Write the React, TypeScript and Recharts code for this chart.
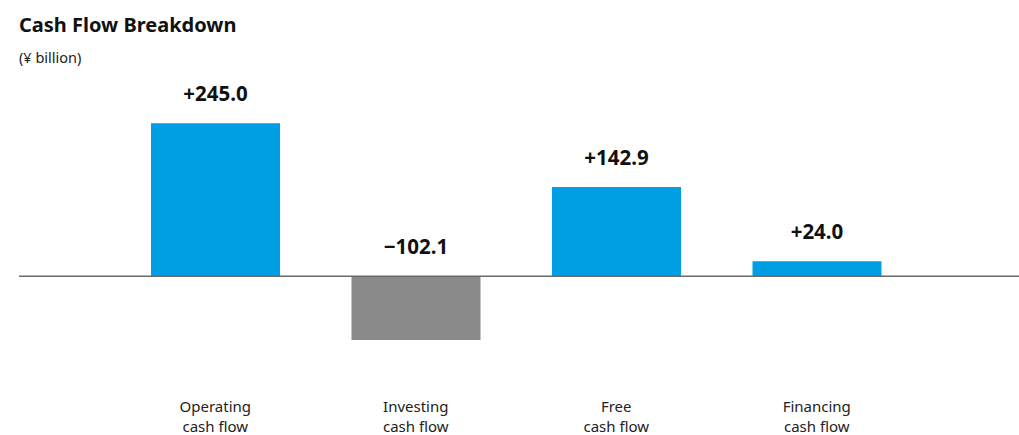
import React from "react";
import { BarChart, Bar, XAxis, YAxis, Cell, LabelList, ReferenceLine } from "recharts";

const categories = ["Operating\ncash flow", "Investing\ncash flow", "Free\ncash flow", "Financing\ncash flow"];
const values = [245.0, -102.1, 142.9, 24.0];
const barColors = ["#009FE3", "#8A8A8A", "#009FE3", "#009FE3"];

const data = categories.map((c, i) => ({ name: c, value: values[i] }));

const fmt = (v: number) => (v >= 0 ? "+" : "\u2212") + Math.abs(v).toFixed(1);

const FONT = "'Noto Sans', 'Open Sans', sans-serif";

const ValueLabel = (props: any) => {
  const { x, y, width, height, value } = props;
  const top = Math.min(y, y + height);
  return (
    <text
      x={x + width / 2}
      y={top - 30}
      textAnchor="middle"
      dominantBaseline="central"
      fontFamily={FONT}
      fontWeight={700}
      fontSize={20.5}
      fill="#111"
    >
      {fmt(value)}
    </text>
  );
};

const CatTick = (props: any) => {
  const { x, y, payload } = props;
  const lines = String(payload.value).split("\n");
  return (
    <g>
      {lines.map((l, i) => (
        <text
          key={i}
          x={x}
          y={y - 3 + i * 19.5}
          textAnchor="middle"
          dominantBaseline="central"
          fontFamily={FONT}
          fontSize={15}
          fill="#222"
        >
          {l}
        </text>
      ))}
    </g>
  );
};

export default function App() {
  return (
    <div style={{ position: "absolute", left: 0, top: 0, width: 1019, height: 435, background: "#fff" }}>
      <div
        style={{
          position: "absolute",
          left: 19,
          top: 11,
          fontFamily: FONT,
          fontWeight: 700,
          fontSize: 20,
          color: "#111",
          whiteSpace: "nowrap",
          lineHeight: "28px",
        }}
      >
        Cash Flow Breakdown
      </div>
      <div
        style={{
          position: "absolute",
          left: 19,
          top: 47,
          fontFamily: FONT,
          fontSize: 14.5,
          color: "#222",
          whiteSpace: "nowrap",
          lineHeight: "20px",
        }}
      >
        (¥ billion)
      </div>
      <BarChart
        width={1019}
        height={435}
        data={data}
        margin={{ top: 89, right: 0, bottom: 0, left: 19 }}
        style={{ position: "absolute", left: 0, top: 0 }}
      >
        <XAxis
          dataKey="name"
          axisLine={false}
          tickLine={false}
          height={34}
          interval={0}
          padding={{ left: 96, right: 102 }}
          tick={<CatTick />}
        />
        <YAxis hide domain={[-200, 300]} />
        <ReferenceLine y={0} stroke="#6A6A6A" strokeWidth={1.5} />
        <Bar dataKey="value" barSize={129} isAnimationActive={false}>
          {data.map((d, i) => (
            <Cell key={i} fill={barColors[i]} />
          ))}
          <LabelList dataKey="value" content={<ValueLabel />} />
        </Bar>
      </BarChart>
    </div>
  );
}
